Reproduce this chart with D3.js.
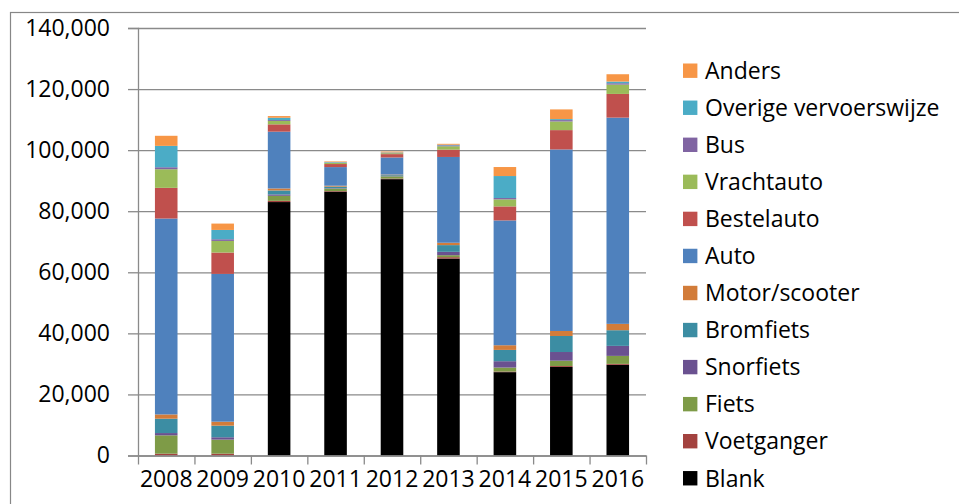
<!DOCTYPE html>
<html>
<head>
<meta charset="utf-8">
<script src="https://cdn.jsdelivr.net/npm/d3@7"></script>
<style>
body { margin: 0; background: #fff; }
svg { display: block; font-family: "Open Sans", sans-serif; }
</style>
</head>
<body>
<script>
// years on the x axis
var years = ['2008', '2009', '2010', '2011', '2012', '2013', '2014', '2015', '2016'];

// one array per series, bottom of the stack first
var blank       = [0, 0, 83000, 86400, 90500, 64500, 27300, 29000, 29700];
var voetganger  = [600, 600, 400, 200, 200, 450, 200, 300, 300];
var fiets       = [6000, 4600, 1650, 800, 700, 650, 1300, 1750, 2620];
var snorfiets   = [750, 770, 450, 150, 100, 1100, 2080, 2840, 3280];
var bromfiets   = [4700, 3800, 1300, 500, 300, 2200, 3700, 5250, 5130];
var motor       = [1400, 1300, 650, 300, 200, 770, 1530, 1640, 2080];
var auto        = [64150, 48400, 18600, 6100, 5600, 28100, 40870, 59450, 67540];
var bestelauto  = [10050, 7000, 2400, 1000, 1100, 2400, 4600, 6330, 7760];
var vrachtauto  = [6100, 3800, 1100, 400, 300, 1100, 2300, 2840, 3060];
var bus         = [650, 550, 300, 100, 100, 300, 440, 440, 440];
var overige     = [7000, 3050, 760, 150, 150, 200, 7200, 330, 550];
var anders      = [3300, 2080, 550, 200, 300, 300, 2950, 3170, 2400];

var seriesNames = ['Blank', 'Voetganger', 'Fiets', 'Snorfiets', 'Bromfiets', 'Motor/scooter',
                   'Auto', 'Bestelauto', 'Vrachtauto', 'Bus', 'Overige vervoerswijze', 'Anders'];
var seriesValues = [blank, voetganger, fiets, snorfiets, bromfiets, motor,
                    auto, bestelauto, vrachtauto, bus, overige, anders];
var seriesColors = ['#000000', '#A3423F', '#7E9B47', '#6A5190', '#3C8DA3', '#D27C3A',
                    '#4F81BD', '#C0504D', '#9BBB59', '#8064A2', '#4BACC6', '#F79646'];
var yTicks = [0, 20000, 40000, 60000, 80000, 100000, 120000, 140000];

var W = 959, H = 504;
var pLeft = 138, pRight = 646, pTop = 28, pBottom = 455.5;
var fontSize = '23px';

var svg = d3.select('body').append('svg').attr('width', W).attr('height', H);

// outer chart border
svg.append('rect').attr('x', 10.5).attr('y', 12.5).attr('width', W).attr('height', H)
  .attr('fill', 'none').attr('stroke', '#878787').attr('stroke-width', 1.2);

// table for the stack
var table = years.map(function(yr, i) {
  var row = { year: yr };
  seriesNames.forEach(function(n, k) { row[n] = seriesValues[k][i]; });
  return row;
});
var stacked = d3.stack().keys(seriesNames)(table);

var x = d3.scaleBand().domain(years).range([pLeft, pRight]).paddingInner(0.6).paddingOuter(0.3);
var y = d3.scaleLinear().domain([0, 140000]).range([pBottom, pTop]);
var xEdge = d3.scaleLinear().domain([0, years.length]).range([pLeft, pRight]);

// gridlines
svg.append('g').attr('transform', 'translate(' + pLeft + ',0)')
  .call(d3.axisLeft(y).tickValues(yTicks).tickSize(-(pRight - pLeft)).tickFormat(''))
  .call(function(g) {
    g.select('.domain').remove();
    g.selectAll('line').attr('stroke', '#8a8a8a').attr('stroke-width', 1.3);
  });

// bars
svg.append('g').selectAll('g').data(stacked).join('g')
  .attr('fill', function(d, k) { return seriesColors[k]; })
  .selectAll('rect').data(function(d) { return d; }).join('rect')
  .attr('x', function(d) { return x(d.data.year); })
  .attr('width', x.bandwidth())
  .attr('y', function(d) { return y(d[1]); })
  .attr('height', function(d) { return y(d[0]) - y(d[1]); });

// y axis
svg.append('g').attr('transform', 'translate(' + pLeft + ',0)')
  .call(d3.axisLeft(y).tickValues(yTicks).tickSize(10).tickPadding(18).tickFormat(d3.format(',')))
  .call(function(g) {
    g.select('.domain').attr('stroke', '#8a8a8a').attr('stroke-width', 1.3);
    g.selectAll('line').attr('stroke', '#8a8a8a').attr('stroke-width', 1.3);
    g.selectAll('text').attr('fill', '#000').style('font-size', fontSize)
      .style('font-family', '"Open Sans", sans-serif');
  });

// x axis line and boundary ticks
svg.append('g').attr('transform', 'translate(0,' + pBottom + ')')
  .call(d3.axisBottom(xEdge).tickValues(d3.range(years.length + 1)).tickSize(9).tickSizeOuter(0).tickFormat(''))
  .call(function(g) {
    g.select('.domain').attr('stroke', '#8a8a8a').attr('stroke-width', 1.3);
    g.selectAll('line').attr('stroke', '#8a8a8a').attr('stroke-width', 1.3);
  });

// x labels
svg.append('g').attr('transform', 'translate(0,' + pBottom + ')')
  .call(d3.axisBottom(x).tickSize(0))
  .call(function(g) {
    g.select('.domain').remove();
    g.selectAll('text').attr('y', 31).attr('dy', 0).attr('fill', '#000')
      .style('font-size', fontSize).style('font-family', '"Open Sans", sans-serif');
  });

// legend, top entry is the last series
var legendOrder = seriesNames.map(function(n, k) { return k; }).reverse();
var legend = svg.append('g').selectAll('g').data(legendOrder).join('g')
  .attr('transform', function(k, i) { return 'translate(683,' + (70.7 + i * 37.05) + ')'; });
legend.append('rect').attr('x', 0).attr('y', -7.2).attr('width', 14.4).attr('height', 14.4)
  .attr('fill', function(k) { return seriesColors[k]; });
legend.append('text').attr('x', 22).attr('dy', '0.36em')
  .style('font-size', fontSize).attr('fill', '#000')
  .text(function(k) { return seriesNames[k]; });
</script>
</body>
</html>
